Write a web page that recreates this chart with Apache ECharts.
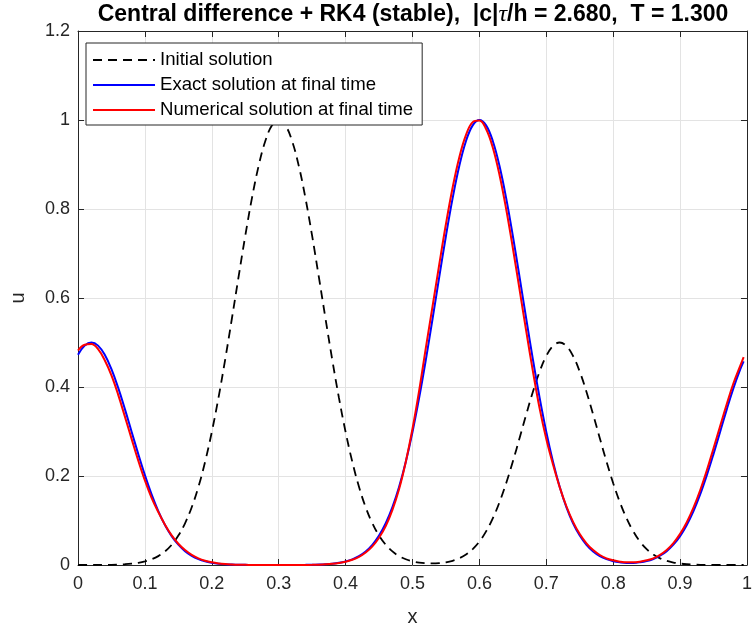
<!DOCTYPE html>
<html>
<body style="margin:0">

<!-- chart container, size of the reference picture -->
<div id="advection" style="width:755px; height:632px;"></div>

<script src="https://cdn.jsdelivr.net/npm/echarts@6/dist/echarts.min.js"></script>

<script>
  // x grid of the solution (last grid point is 1 - h)
  var xs = [0, 0.01, 0.02, 0.03, 0.04, 0.05, 0.06, 0.07, 0.08, 0.09,
    0.10, 0.11, 0.12, 0.13, 0.14, 0.15, 0.16, 0.17, 0.18, 0.19,
    0.20, 0.21, 0.22, 0.23, 0.24, 0.25, 0.26, 0.27, 0.28, 0.29,
    0.30, 0.31, 0.32, 0.33, 0.34, 0.35, 0.36, 0.37, 0.38, 0.39,
    0.40, 0.41, 0.42, 0.43, 0.44, 0.45, 0.46, 0.47, 0.48, 0.49,
    0.50, 0.51, 0.52, 0.53, 0.54, 0.55, 0.56, 0.57, 0.58, 0.59,
    0.60, 0.61, 0.62, 0.63, 0.64, 0.65, 0.66, 0.67, 0.68, 0.69,
    0.70, 0.71, 0.72, 0.73, 0.74, 0.75, 0.76, 0.77, 0.78, 0.79,
    0.80, 0.81, 0.82, 0.83, 0.84, 0.85, 0.86, 0.87, 0.88, 0.89,
    0.90, 0.91, 0.92, 0.93, 0.94, 0.95, 0.96, 0.97, 0.98, 0.99, 0.995];

  // initial solution (dashed black)
  var initialU = [0, 0, 0.0001, 0.0002, 0.0003, 0.0005, 0.0010, 0.0017, 0.0029, 0.0049,
    0.0080, 0.0128, 0.0200, 0.0305, 0.0454, 0.0661, 0.0938, 0.1299, 0.1757, 0.2320,
    0.2989, 0.3760, 0.4617, 0.5534, 0.6474, 0.7394, 0.8243, 0.8970, 0.9528, 0.9880,
    1, 0.9880, 0.9528, 0.8970, 0.8243, 0.7394, 0.6474, 0.5534, 0.4617, 0.3760,
    0.2989, 0.2320, 0.1757, 0.1299, 0.0938, 0.0661, 0.0454, 0.0305, 0.0200, 0.0129,
    0.0083, 0.0054, 0.0039, 0.0035, 0.0042, 0.0060, 0.0095, 0.0151, 0.0235, 0.0357,
    0.0527, 0.0755, 0.1048, 0.1410, 0.1839, 0.2325, 0.2849, 0.3383, 0.3894, 0.4344,
    0.4697, 0.4922, 0.5, 0.4922, 0.4697, 0.4344, 0.3894, 0.3383, 0.2849, 0.2325,
    0.1839, 0.1410, 0.1048, 0.0755, 0.0527, 0.0357, 0.0234, 0.0149, 0.0092, 0.0055,
    0.0032, 0.0018, 0.0010, 0.0005, 0.0003, 0.0001, 0, 0, 0, 0, 0];

  // exact solution at final time (blue)
  var exactU = [0.4724, 0.4930, 0.5, 0.4930, 0.4724, 0.4401, 0.3985, 0.3509, 0.3002, 0.2497,
    0.2019, 0.1586, 0.1212, 0.0900, 0.0649, 0.0456, 0.0311, 0.0206, 0.0133, 0.0083,
    0.0051, 0.0030, 0.0017, 0.0010, 0.0005, 0.0003, 0.0001, 0, 0, 0,
    0, 0, 0.0001, 0.0002, 0.0003, 0.0005, 0.0010, 0.0017, 0.0029, 0.0049,
    0.0080, 0.0128, 0.0200, 0.0305, 0.0454, 0.0661, 0.0938, 0.1299, 0.1757, 0.2320,
    0.2989, 0.3760, 0.4617, 0.5534, 0.6474, 0.7394, 0.8243, 0.8970, 0.9528, 0.9880,
    1, 0.9880, 0.9528, 0.8970, 0.8243, 0.7394, 0.6474, 0.5534, 0.4617, 0.3760,
    0.2989, 0.2320, 0.1757, 0.1299, 0.0938, 0.0661, 0.0454, 0.0305, 0.0201, 0.0131,
    0.0085, 0.0059, 0.0046, 0.0047, 0.0061, 0.0088, 0.0136, 0.0208, 0.0312, 0.0456,
    0.0649, 0.0900, 0.1212, 0.1586, 0.2019, 0.2497, 0.3002, 0.3509, 0.3985, 0.4401, 0.4576];

  // numerical solution at final time (red)
  var numericalU = [0.4820, 0.4950, 0.4965, 0.4850, 0.4600, 0.4260, 0.3830, 0.3340, 0.2840, 0.2350,
    0.1900, 0.1510, 0.1190, 0.0905, 0.0665, 0.0478, 0.0335, 0.0228, 0.0150, 0.0096,
    0.0060, 0.0036, 0.0021, 0.0012, 0.0006, 0.0003, 0.0001, 0, 0, 0,
    0, 0, 0.0001, 0.0001, 0.0002, 0.0004, 0.0008, 0.0015, 0.0026, 0.0044,
    0.0072, 0.0117, 0.0183, 0.0281, 0.0420, 0.0614, 0.0875, 0.1238, 0.1706, 0.2320,
    0.3061, 0.3923, 0.4885, 0.5815, 0.6755, 0.7662, 0.8482, 0.9165, 0.9666, 0.9952,
    0.9989, 0.9798, 0.9381, 0.8768, 0.7999, 0.7123, 0.6192, 0.5254, 0.4352, 0.3519,
    0.2830, 0.2260, 0.1750, 0.1320, 0.0970, 0.0695, 0.0488, 0.0335, 0.0225, 0.0150,
    0.0105, 0.0074, 0.0059, 0.0060, 0.0075, 0.0105, 0.0150, 0.0228, 0.0338, 0.0493,
    0.0700, 0.0962, 0.1288, 0.1680, 0.2130, 0.2625, 0.3130, 0.3630, 0.4095, 0.4480, 0.4669];

  // axis ticks
  var xTicks = [0, 0.1, 0.2, 0.3, 0.4, 0.5, 0.6, 0.7, 0.8, 0.9, 1];
  var yTicks = [0, 0.2, 0.4, 0.6, 0.8, 1, 1.2];

  var seriesNames = ['Initial solution', 'Exact solution at final time', 'Numerical solution at final time'];

  function pairs(ys) {
    return xs.map(function (x, i) { return [x, ys[i]]; });
  }

  function tickLabel(value) {
    return String(+value.toFixed(1));
  }

  var font = 'Liberation Sans';
  var axisColor = '#262626';

  function boxAxis(base) {
    // common look of the four sides of the MATLAB-style box
    return Object.assign({
      type: 'value',
      axisLine: { show: true, onZero: false, lineStyle: { color: axisColor, width: 1 } },
      axisTick: { show: true, inside: true, length: 6, lineStyle: { color: axisColor } },
      splitLine: { show: false },
      axisLabel: { show: false }
    }, base);
  }

  var option = {
    animation: false,
    backgroundColor: '#ffffff',
    title: {
      text: 'Central difference + RK4 (stable),  |c|{t|τ}/h = 2.680,  T = 1.300',
      left: 413,
      top: 3,
      padding: 0,
      textAlign: 'center',
      textStyle: {
        fontFamily: font,
        fontWeight: 'bold',
        fontSize: 23,
        color: '#000000',
        rich: {
          t: { fontFamily: 'Liberation Serif', fontStyle: 'italic', fontWeight: 'normal', fontSize: 24, color: '#000000' }
        }
      }
    },
    legend: {
      orient: 'vertical',
      left: 86,
      top: 43,
      padding: [7, 9, 5, 6],
      itemGap: 5,
      itemWidth: 62,
      itemHeight: 14,
      backgroundColor: '#ffffff',
      borderColor: axisColor,
      borderWidth: 1,
      borderRadius: 0,
      itemStyle: { opacity: 0 },
      data: seriesNames,
      textStyle: { fontFamily: font, fontSize: 18.6, color: '#000000', lineHeight: 20 }
    },
    grid: {
      left: 75,
      right: 4,
      top: 31,
      bottom: 67
    },
    xAxis: [
      boxAxis({
        position: 'bottom',
        min: xTicks[0],
        max: xTicks[xTicks.length - 1],
        interval: xTicks[1] - xTicks[0],
        name: 'x',
        nameLocation: 'middle',
        nameGap: 42,
        nameTextStyle: { fontFamily: font, fontSize: 20, color: axisColor },
        splitLine: { show: true, lineStyle: { color: '#e3e3e3', width: 1 } },
        axisLabel: { show: true, margin: 10, fontFamily: font, fontSize: 18, color: axisColor, formatter: tickLabel }
      }),
      boxAxis({
        position: 'top',
        min: xTicks[0],
        max: xTicks[xTicks.length - 1],
        interval: xTicks[1] - xTicks[0]
      })
    ],
    yAxis: [
      boxAxis({
        position: 'left',
        min: yTicks[0],
        max: yTicks[yTicks.length - 1],
        interval: yTicks[1] - yTicks[0],
        name: 'u',
        nameLocation: 'middle',
        nameGap: 50,
        nameTextStyle: { fontFamily: font, fontSize: 20, color: axisColor },
        splitLine: { show: true, lineStyle: { color: '#e3e3e3', width: 1 } },
        axisLabel: { show: true, margin: 8, fontFamily: font, fontSize: 18, color: axisColor, formatter: tickLabel }
      }),
      boxAxis({
        position: 'right',
        min: yTicks[0],
        max: yTicks[yTicks.length - 1],
        interval: yTicks[1] - yTicks[0]
      })
    ],
    series: [{
      name: seriesNames[0],
      type: 'line',
      showSymbol: false,
      symbol: 'none',
      smooth: 0.4,
      lineStyle: { color: '#000000', width: 1.8, type: [9, 6] },
      itemStyle: { color: '#000000' },
      data: pairs(initialU)
    }, {
      name: seriesNames[1],
      type: 'line',
      showSymbol: false,
      symbol: 'none',
      smooth: 0.4,
      lineStyle: { color: '#0000ff', width: 2 },
      itemStyle: { color: '#0000ff' },
      data: pairs(exactU)
    }, {
      name: seriesNames[2],
      type: 'line',
      showSymbol: false,
      symbol: 'none',
      smooth: 0.4,
      lineStyle: { color: '#ff0000', width: 2 },
      itemStyle: { color: '#ff0000' },
      data: pairs(numericalU)
    }]
  };

  var chart = echarts.init(document.getElementById('advection'));
  chart.setOption(option);
</script>

</body>
</html>
